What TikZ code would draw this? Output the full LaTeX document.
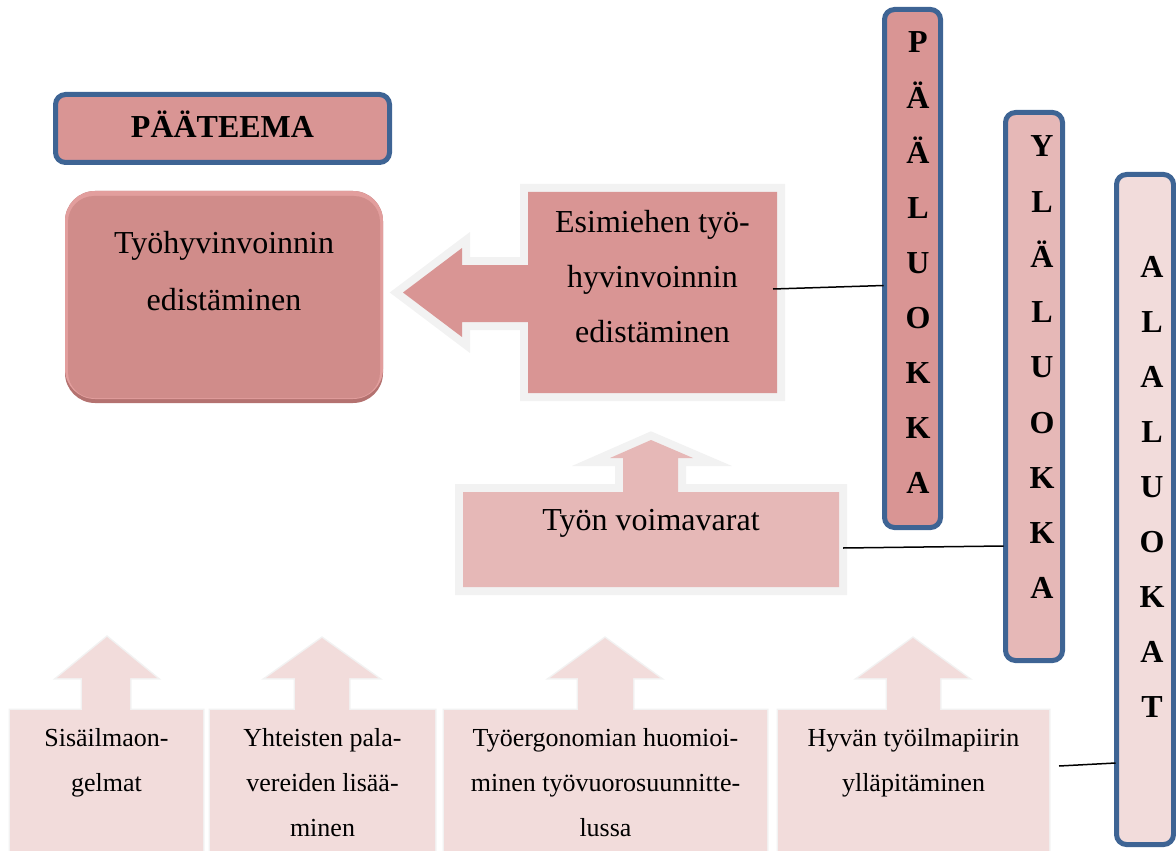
\documentclass[tikz,border=0pt]{standalone}
\usepackage{fontspec}
\setmainfont{Liberation Serif}
\usetikzlibrary{calc}
\definecolor{bordblue}{RGB}{62,100,148}
\definecolor{paafill}{HTML}{D99594}
\definecolor{mainfill}{HTML}{D08C8A}
\definecolor{mainedge}{HTML}{B47270}
\definecolor{mainlight}{HTML}{E29E9D}
\definecolor{ylafill}{HTML}{E6B8B7}
\definecolor{alafill}{HTML}{F2DCDB}
\definecolor{halo}{HTML}{F2F2F2}
\begin{document}
\begin{tikzpicture}[x=0.5pt,y=-0.5pt,
  catbox/.style={draw=bordblue, line width=2.5pt, rounded corners=5pt, inner sep=0pt, outer sep=0pt},
  vlet/.style={font=\bfseries\fontsize{16}{19}\selectfont, inner sep=0pt, anchor=base},
  bigtxt/.style={font=\fontsize{16}{19}\selectfont, inner sep=0pt, anchor=base},
  smalltxt/.style={font=\fontsize{13}{16}\selectfont, inner sep=0pt, anchor=base},
  area/.style={inner sep=0pt, outer sep=0pt, draw=none},
  link/.style={draw=black, line width=0.75pt},
  bighalo/.style={preaction={draw=halo, line width=8pt, line join=miter, miter limit=10}},
  smallhalo/.style={preaction={draw=halo, line width=1.5pt, line join=miter, miter limit=10}},
]
\useasboundingbox (0,0) rectangle (1176,850);
\clip (0,0) rectangle (1176,850);

% PÄÄTEEMA label
\node[catbox, fill=paafill, minimum width=167pt, minimum height=34pt,
      font=\bfseries\fontsize{16}{19}\selectfont, text height=11pt, text depth=1.5pt]
      (teema) at (222.5,128.5) {PÄÄTEEMA};

% main theme box (bevelled)
\node[area, fill=mainedge, rounded corners=15pt, minimum width=159pt, minimum height=106pt]
      (main) at (224,297) {};
\node[area, fill=mainlight, rounded corners=15pt, minimum width=159pt, minimum height=104pt]
      (mainhi) at (224,295) {};
\node[area, fill=mainfill, rounded corners=13pt, minimum width=156pt, minimum height=101pt]
      (maininner) at (224,297) {};
\node[bigtxt] (m1) at (224,253) {Työhyvinvoinnin};
\node[bigtxt] (m2) at (224,310) {edistäminen};

% Esimiehen callout with left arrow
\path[fill=paafill, bighalo] (528,192) -- (777,192) -- (777,393) -- (528,393) -- (528,322)
   -- (462,322) -- (462,337) -- (403,292.5) -- (462,248) -- (462,265) -- (528,265) -- cycle;
\node[area, minimum width=124.5pt, minimum height=100.5pt] (esim) at (652.5,292.5) {};
\foreach \t [count=\i] in {Esimiehen työ-, hyvinvoinnin, edistäminen}
  \node[bigtxt] (esim\i) at (652.5,{232+55*(\i-1)}) {\t};

% Työn voimavarat callout with up arrow
\path[fill=ylafill, bighalo] (463,492) -- (623,492) -- (623,458) -- (610,458) -- (651,440)
   -- (693,458) -- (678,458) -- (678,492) -- (839,492) -- (839,587) -- (463,587) -- cycle;
\node[area, minimum width=188pt, minimum height=47.5pt] (voima) at (651,539.5) {};
\node[bigtxt] (voimatxt) at (651,530) {Työn voimavarat};

% bottom callouts
\path[fill=alafill, smallhalo] (10,870) -- (10,710) -- (82,710) -- (82,678) -- (57,678) -- (107,637)
   -- (157,678) -- (130,678) -- (130,710) -- (203,710) -- (203,870) -- cycle;
\path[fill=alafill, smallhalo] (210,870) -- (210,710) -- (295,710) -- (295,678) -- (266,678) -- (322,638)
   -- (378,678) -- (349,678) -- (349,710) -- (435,710) -- (435,870) -- cycle;
\path[fill=alafill, smallhalo] (444,870) -- (444,710) -- (578,710) -- (578,678) -- (550,678) -- (605,638)
   -- (660,678) -- (633,678) -- (633,710) -- (767,710) -- (767,870) -- cycle;
\path[fill=alafill, smallhalo] (778,870) -- (778,710) -- (887,710) -- (887,678) -- (858,678) -- (913,638)
   -- (968,678) -- (940,678) -- (940,710) -- (1049,710) -- (1049,870) -- cycle;
\node[area, minimum width=96.5pt, minimum height=70pt] (b1) at (106.5,780) {};
\node[area, minimum width=112.5pt, minimum height=70pt] (b2) at (322.5,780) {};
\node[area, minimum width=161.5pt, minimum height=70pt] (b3) at (605.5,780) {};
\node[area, minimum width=135.5pt, minimum height=70pt] (b4) at (913.5,780) {};
\foreach \t [count=\i] in {Sisäilmaon-, gelmat}
  \node[smalltxt] (b1t\i) at (106.5,{746+45*(\i-1)}) {\t};
\foreach \t [count=\i] in {Yhteisten pala-, vereiden lisää-, minen}
  \node[smalltxt] (b2t\i) at (322.5,{746+45*(\i-1)}) {\t};
\foreach \t [count=\i] in {Työergonomian huomioi-, minen työvuorosuunnitte-, lussa}
  \node[smalltxt] (b3t\i) at (605.5,{746+45*(\i-1)}) {\t};
\foreach \t [count=\i] in {Hyvän työilmapiirin, ylläpitäminen}
  \node[smalltxt] (b4t\i) at (913.5,{746+45*(\i-1)}) {\t};

% category columns
\node[catbox, fill=paafill, minimum width=28pt, minimum height=259pt] (paa) at (912.5,268.5) {};
\node[catbox, fill=ylafill, minimum width=28.5pt, minimum height=274pt] (yla) at (1034,386.5) {};
\node[catbox, fill=alafill, minimum width=28.5pt, minimum height=335pt] (ala) at (1145,509.5) {};
\foreach \l [count=\i] in {P,Ä,Ä,L,U,O,K,K,A}
  \node[vlet] (pl\i) at (918,{53+55.1*(\i-1)}) {\l};
\foreach \l [count=\i] in {Y,L,Ä,L,U,O,K,K,A}
  \node[vlet] (yl\i) at (1042,{157+55.2*(\i-1)}) {\l};
\foreach \l [count=\i] in {A,L,A,L,U,O,K,A,T}
  \node[vlet] (al\i) at (1152,{277+55.1*(\i-1)}) {\l};

% connectors
\draw[link] ($(esim.east)+(-4,-3.5)$) -- ($(paa.west)+(-1,17)$);
\draw[link] ($(voima.east)+(4,8.5)$) -- ($(yla.west)+(-2,159.5)$);
\draw[link] ($(b4.east)+(10,-14)$) -- ($(ala.west)+(-1,253.5)$);
\end{tikzpicture}
\end{document}
